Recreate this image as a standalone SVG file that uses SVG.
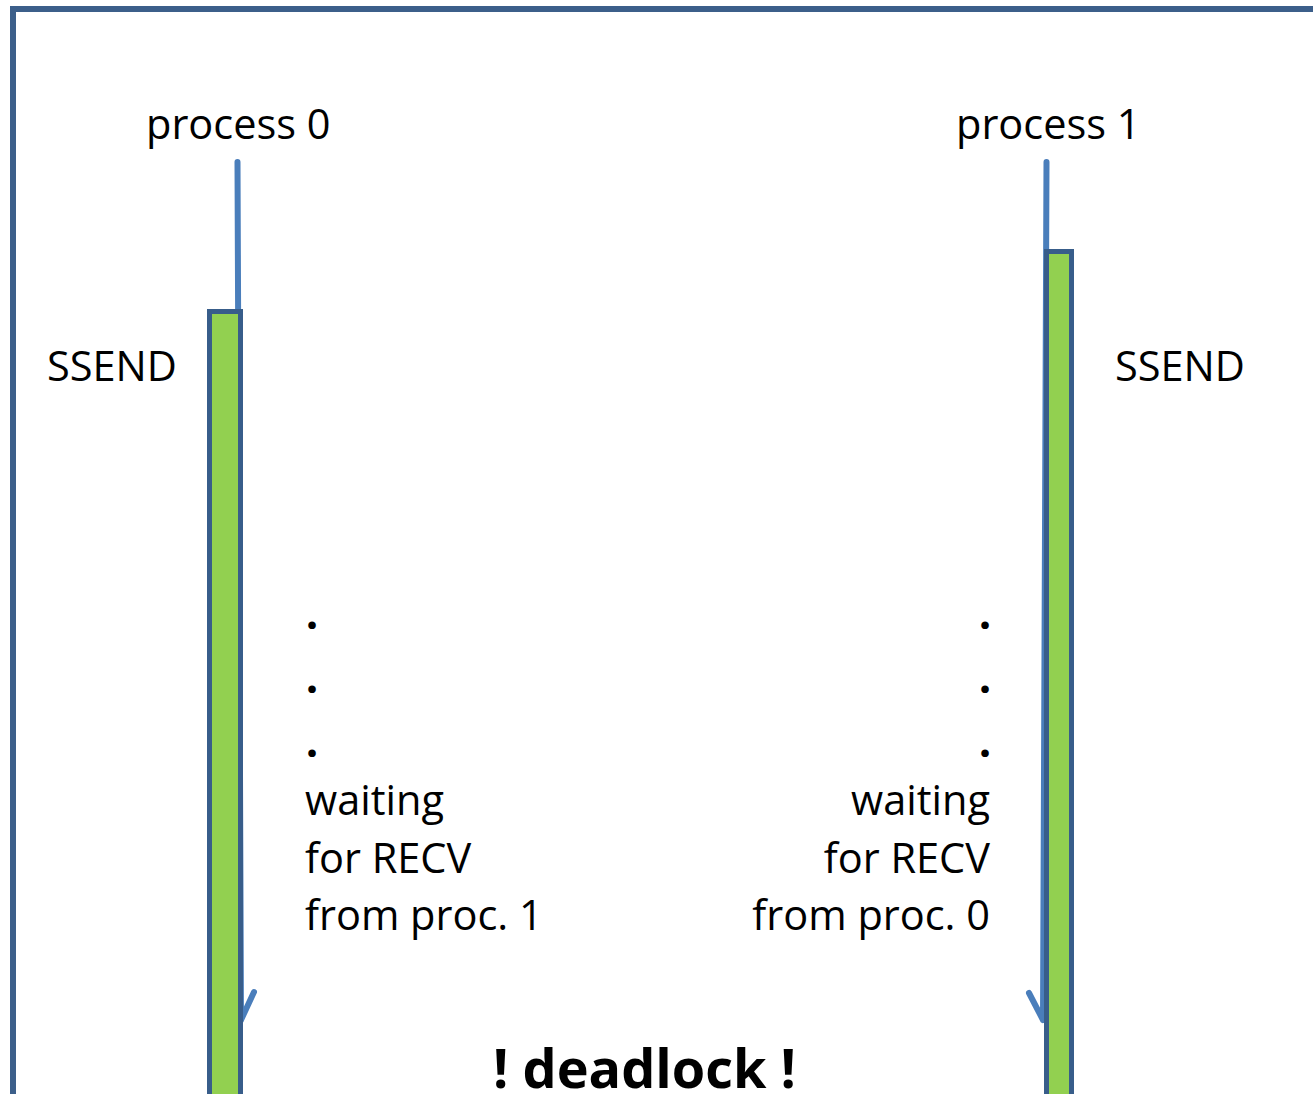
<svg xmlns="http://www.w3.org/2000/svg" width="1313" height="1094" viewBox="0 0 1313 1094">
<style>
.t{font-family:"Open Sans","Liberation Sans",sans-serif;font-size:41.5px;fill:#000}
.b{font-family:"Open Sans","Liberation Sans",sans-serif;font-weight:bold;fill:#000}
.ln{fill:none;stroke:#4A7EBB;stroke-width:6;stroke-linecap:round;stroke-linejoin:round}
.bar{fill:#92D050;stroke:#385D8A;stroke-width:5}
</style>
<rect id="frame" x="13" y="9" width="1400" height="1200" fill="#fff" stroke="#3C5F8A" stroke-width="6"/>
<g id="connectors">
<path class="ln" d="M237.5 162 L241 1020 M228 992 L241 1020 L254 992"/>
<path class="ln" d="M1046.5 162 L1043 1020 M1029 993 L1043 1020 L1056 993"/>
</g>
<g id="bar0"><rect class="bar" x="209.5" y="311.5" width="31" height="900"/></g>
<g id="bar1"><rect class="bar" x="1046.5" y="251.5" width="25" height="900"/></g>
<g id="process0"><text class="t" x="146" y="139">process 0</text></g>
<g id="process1"><text class="t" x="956" y="139">process 1</text></g>
<g id="ssend0"><text class="t" x="47" y="381">SSEND</text></g>
<g id="ssend1"><text class="t" x="1115" y="381">SSEND</text></g>
<g id="dots0" class="b" style="font-size:44px" text-anchor="middle">
<text x="312" y="629">.</text><text x="312" y="693">.</text><text x="312" y="757">.</text>
</g>
<g id="dots1" class="b" style="font-size:44px" text-anchor="middle">
<text x="985" y="629">.</text><text x="985" y="693">.</text><text x="985" y="757">.</text>
</g>
<g id="wait0"><text class="t" x="305" y="815">waiting</text><text class="t" x="305" y="873">for RECV</text><text class="t" x="305" y="930">from proc. 1</text></g>
<g id="wait1" text-anchor="end"><text class="t" x="990" y="815">waiting</text><text class="t" x="990" y="873">for RECV</text><text class="t" x="990" y="930">from proc. 0</text></g>
<g id="deadlock"><text class="b" x="644.5" y="1088" text-anchor="middle" style="font-size:54px">! deadlock !</text></g>
</svg>
